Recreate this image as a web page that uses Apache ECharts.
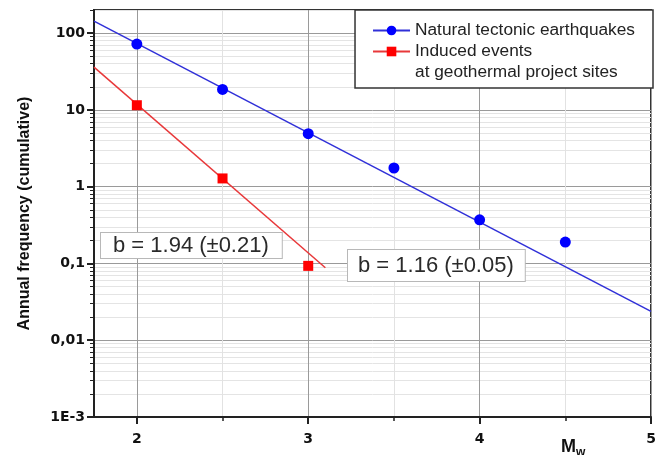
<!DOCTYPE html>
<html>
<head>
<meta charset="utf-8">
<title>Annual frequency vs Mw</title>
<script src="https://cdn.jsdelivr.net/npm/echarts@6/dist/echarts.min.js"></script>
<style>
  html, body { margin: 0; padding: 0; background: #fff; }
  #chart { width: 667px; height: 455px; }
</style>
</head>
<body>
<div id="chart"></div>
<script>
const NATURAL = 'Natural tectonic earthquakes'
const INDUCED = 'Induced events\nat geothermal project sites'

// observed cumulative annual frequencies
const naturalMag = [2, 2.5, 3, 3.5, 4, 4.5]
const naturalFreq = [72, 18.5, 4.9, 1.75, 0.37, 0.19]
const inducedMag = [2, 2.5, 3]
const inducedFreq = [11.5, 1.28, 0.093]

// regression lines (end points)
const naturalFitMag = [1.75, 5]
const naturalFitFreq = [143, 0.0237]
const inducedFitMag = [1.75, 3.1]
const inducedFitFreq = [36, 0.088]

// axis ticks
const xTicks = [2, 3, 4, 5]
const xMinorTicks = [2.5, 3.5, 4.5]
const yTicks = [0.001, 0.01, 0.1, 1, 10, 100]
const yTickLabels = ['1E-3', '0,01', '0,1', '1', '10', '100']

const bNatural = 'b = 1.16 (±0.05)'
const bInduced = 'b = 1.94 (±0.21)'

const yMax = 200
const yMinorTicks = []
yTicks.forEach(d => {
  for (let k = 2; k <= 9; k++) {
    if (d * k <= yMax) yMinorTicks.push(+(d * k).toPrecision(3))
  }
})

const pairs = (xs, ys) => xs.map((x, i) => [x, ys[i]])

const labelFont = { fontFamily: 'DejaVu Sans', fontWeight: 'bold', fontSize: 14, color: '#111' }

function yLabel(v) {
  const i = yTicks.findIndex(t => Math.abs(Math.log10(t) - Math.log10(v)) < 1e-6)
  return i < 0 ? '' : yTickLabels[i]
}

const chart = echarts.init(document.getElementById('chart'))

chart.setOption({
  animation: false,
  grid: {
    left: 94, right: 16, top: 10, bottom: 38,
    outerBoundsMode: 'none',
    containLabel: false,
    show: true,
    borderColor: '#333',
    borderWidth: 2
  },
  xAxis: [{
    type: 'value',
    min: 1.75,
    max: 5,
    name: '{m|M}{w|w}',
    nameLocation: 'end',
    nameGap: -90,
    nameTextStyle: {
      align: 'left',
      verticalAlign: 'top',
      padding: [21, 0, 0, 0],
      rich: {
        m: { fontFamily: 'Liberation Sans', fontWeight: 'bold', fontSize: 18, lineHeight: 18, verticalAlign: 'top', color: '#111' },
        w: { fontFamily: 'Liberation Sans', fontWeight: 'bold', fontSize: 12, lineHeight: 12, verticalAlign: 'top', padding: [9, 0, 0, 0], color: '#111' }
      }
    },
    axisLine: { lineStyle: { color: '#222', width: 2 } },
    axisTick: { customValues: xTicks, length: 7, lineStyle: { color: '#222', width: 2 } },
    axisLabel: Object.assign({ customValues: xTicks, margin: 15, formatter: v => String(v) }, labelFont),
    splitLine: { show: true, lineStyle: { color: '#9a9a9a', width: 1 } }
  }, {
    type: 'value',
    min: 1.75,
    max: 5,
    position: 'bottom',
    axisLine: { show: false },
    axisTick: { customValues: xMinorTicks, length: 4, lineStyle: { color: '#222', width: 1.5 } },
    axisLabel: { show: false },
    splitLine: { show: true, lineStyle: { color: '#e2e2e2', width: 1 } }
  }],
  yAxis: [{
    type: 'log',
    logBase: 10,
    min: 0.001,
    max: yMax,
    name: 'Annual frequency (cumulative)',
    nameLocation: 'middle',
    nameGap: 61,
    nameTextStyle: { fontFamily: 'Liberation Sans', fontWeight: 'bold', fontSize: 16, color: '#111' },
    axisLine: { lineStyle: { color: '#222', width: 2 } },
    axisTick: { customValues: yTicks, length: 7, lineStyle: { color: '#222', width: 2 } },
    axisLabel: Object.assign({ customValues: yTicks, margin: 9, formatter: yLabel }, labelFont),
    splitLine: { show: true, lineStyle: { color: '#9a9a9a', width: 1 } }
  }, {
    type: 'log',
    logBase: 10,
    min: 0.001,
    max: yMax,
    position: 'left',
    axisLine: { show: false },
    axisTick: { customValues: yMinorTicks, length: 4, lineStyle: { color: '#222', width: 1 } },
    axisLabel: { show: false },
    splitLine: { show: true, lineStyle: { color: '#e4e4e4', width: 1 } }
  }],
  legend: {
    orient: 'vertical',
    right: 14,
    top: 10,
    data: [NATURAL, INDUCED],
    // two-line entry: blank first line so the icon sits on "Induced events"
    formatter: name => (name === INDUCED ? ' \n' + name : name),
    itemWidth: 37,
    itemHeight: 12,
    itemGap: -21,
    padding: [10, 18, 5, 17],
    borderColor: '#333',
    borderWidth: 1.5,
    backgroundColor: '#fff',
    selectedMode: false,
    textStyle: { fontFamily: 'Liberation Sans', fontSize: 17.3, lineHeight: 21, color: '#222' }
  },
  graphic: [{
    type: 'text',
    left: 100,
    top: 232,
    z: 50,
    style: {
      text: bInduced,
      font: '22px "Liberation Sans"',
      fill: '#2a2a2a',
      backgroundColor: '#fff',
      borderColor: '#b8b8b8',
      borderWidth: 1,
      padding: [2, 13, 1, 12]
    }
  }, {
    type: 'text',
    left: 347,
    top: 249,
    z: 50,
    style: {
      text: bNatural,
      font: '22px "Liberation Sans"',
      fill: '#2a2a2a',
      backgroundColor: '#fff',
      borderColor: '#b8b8b8',
      borderWidth: 1,
      padding: [5, 11, 4, 10]
    }
  }],
  series: [{
    name: NATURAL,
    type: 'line',
    data: pairs(naturalFitMag, naturalFitFreq),
    symbol: 'circle',
    symbolSize: 11,
    showSymbol: false,
    silent: true,
    lineStyle: { color: '#3030d8', width: 1.5 },
    itemStyle: { color: '#0000ff' },
    z: 3
  }, {
    name: INDUCED,
    type: 'line',
    data: pairs(inducedFitMag, inducedFitFreq),
    symbol: 'rect',
    symbolSize: 10,
    showSymbol: false,
    silent: true,
    lineStyle: { color: '#e8383a', width: 1.5 },
    itemStyle: { color: '#ff0000' },
    z: 3
  }, {
    name: NATURAL,
    type: 'scatter',
    data: pairs(naturalMag, naturalFreq),
    symbol: 'circle',
    symbolSize: 11,
    itemStyle: { color: '#0000ff', opacity: 1 },
    z: 4
  }, {
    name: INDUCED,
    type: 'scatter',
    data: pairs(inducedMag, inducedFreq),
    symbol: 'rect',
    symbolSize: 10,
    itemStyle: { color: '#ff0000', opacity: 1 },
    z: 4
  }]
})
</script>
</body>
</html>
